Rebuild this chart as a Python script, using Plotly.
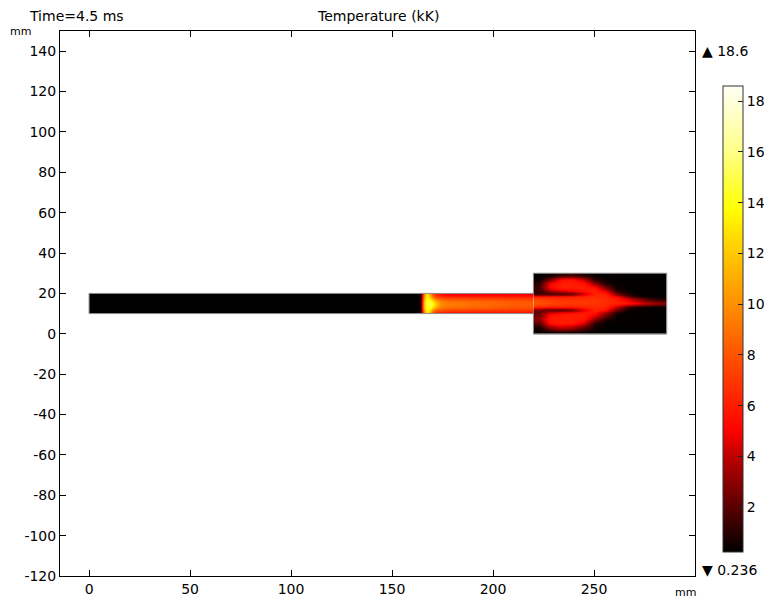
import plotly.graph_objects as go

# ---- data: temperature field (kK) ----
T_MIN = 0.236
T_MAX = 18.6

# Tube (x 0..220 mm, y 10..20 mm): cell edges
tube_x_edges = [0, 100, 160, 163, 165, 166.5, 168, 169.5, 171, 173, 176, 180, 190, 205, 220]
tube_y_edges = [10, 11.25, 12.75, 14.25, 15.75, 17.25, 18.75, 20]
# one list per column (bottom -> top rows)
tube_cols = [
    [0.24, 0.24, 0.24, 0.24, 0.24, 0.24, 0.24],
    [0.24, 0.24, 0.24, 0.24, 0.24, 0.24, 0.24],
    [0.25, 0.25, 0.25, 0.25, 0.25, 0.25, 0.25],
    [0.5, 0.6, 0.6, 0.6, 0.6, 0.6, 0.5],
    [9.0, 10.0, 11.0, 11.0, 11.0, 10.0, 9.0],
    [13.5, 14.0, 14.5, 14.5, 14.5, 14.0, 13.5],
    [11.0, 13.0, 14.5, 15.0, 14.5, 13.0, 11.0],
    [8.0, 10.0, 13.0, 14.0, 13.0, 10.0, 8.0],
    [6.5, 8.5, 11.0, 12.0, 11.0, 8.5, 6.5],
    [6.0, 8.0, 9.5, 10.0, 9.5, 8.0, 5.5],
    [5.5, 7.5, 9.0, 9.5, 9.0, 7.5, 5.0],
    [5.5, 7.5, 8.8, 9.2, 8.8, 7.5, 5.0],
    [5.5, 7.2, 8.5, 8.8, 8.5, 7.2, 5.0],
    [5.5, 7.0, 8.0, 8.3, 8.0, 7.0, 5.0],
]

# Chamber (x 220..286 mm, y 0..30 mm): cell edges
cham_x_edges = [220, 225.5, 231, 236.5, 242, 247.5, 253, 258.5, 264, 269.5, 275, 280.5, 286]
cham_y_edges = [0, 2, 4, 6, 8, 10, 11.25, 12.5, 14, 16, 18, 19.25, 20.5, 22, 24, 26, 28, 30]
# one list per row, listed top (y=29) -> bottom (y=1)
cham_rows_top_down = [
    [0.3, 0.5, 1.2, 1.5, 0.8, 0.3, 0.3, 0.3, 0.3, 0.3, 0.3, 0.3],   # y 29
    [0.4, 2.5, 5.2, 5.6, 4.0, 1.0, 0.4, 0.3, 0.3, 0.3, 0.3, 0.3],   # y 27
    [1.0, 5.0, 6.0, 6.0, 5.8, 3.0, 0.7, 0.3, 0.3, 0.3, 0.3, 0.3],   # y 25
    [1.5, 5.2, 6.0, 6.0, 6.0, 5.5, 2.5, 0.5, 0.3, 0.3, 0.3, 0.3],   # y 23
    [1.0, 3.5, 4.5, 5.0, 5.8, 6.2, 4.5, 1.0, 0.4, 0.3, 0.3, 0.3],   # y 21.25
    [1.5, 1.3, 1.5, 2.0, 4.0, 6.3, 6.0, 2.5, 0.8, 0.3, 0.3, 0.3],   # y 19.9
    [5.5, 5.5, 5.5, 5.8, 6.2, 6.5, 6.3, 5.0, 2.0, 0.6, 0.3, 0.3],   # y 18.6
    [7.5, 7.0, 6.8, 6.8, 6.8, 6.8, 6.5, 6.0, 4.5, 3.0, 1.5, 1.0],   # y 17
    [8.0, 7.5, 7.2, 7.0, 7.0, 6.8, 6.5, 6.2, 5.8, 4.8, 3.8, 3.2],   # y 15
    [6.5, 6.0, 6.0, 6.0, 6.3, 6.5, 6.3, 4.0, 1.5, 0.6, 0.4, 0.3],   # y 13.25
    [2.5, 2.0, 2.0, 2.5, 4.5, 6.3, 5.5, 2.5, 0.6, 0.3, 0.3, 0.3],   # y 11.9
    [2.0, 4.0, 4.5, 5.0, 5.8, 5.8, 3.5, 1.0, 0.3, 0.3, 0.3, 0.3],   # y 10.6
    [2.5, 5.5, 6.0, 6.0, 6.0, 4.8, 2.5, 0.4, 0.3, 0.3, 0.3, 0.3],   # y 9
    [3.0, 6.0, 6.0, 6.0, 5.8, 3.0, 0.8, 0.3, 0.3, 0.3, 0.3, 0.3],   # y 7
    [2.0, 5.5, 6.0, 5.8, 4.5, 1.0, 0.3, 0.3, 0.3, 0.3, 0.3, 0.3],   # y 5
    [0.5, 3.0, 4.0, 3.5, 2.0, 0.5, 0.3, 0.3, 0.3, 0.3, 0.3, 0.3],   # y 3
    [0.3, 0.4, 0.6, 0.6, 0.4, 0.3, 0.3, 0.3, 0.3, 0.3, 0.3, 0.3],   # y 1
]

# Geometry outline (mm)
outline_x = [0, 220, 220, 286, 286, 220, 220, 0, 0]
outline_y = [10, 10, 0, 0, 30, 30, 20, 20, 10]

x_ticks = [0, 50, 100, 150, 200, 250]
x_tick_labels = ["0", "50", "100", "150", "200", "250"]
y_ticks = [-120, -100, -80, -60, -40, -20, 0, 20, 40, 60, 80, 100, 120, 140]
y_tick_labels = ["-120", "-100", "-80", "-60", "-40", "-20", "0", "20", "40", "60", "80", "100", "120", "140"]
cb_ticks = [2, 4, 6, 8, 10, 12, 14, 16, 18]
cb_tick_labels = ["2", "4", "6", "8", "10", "12", "14", "16", "18"]

# ---- build ----
tube_z = [[col[r] for col in tube_cols] for r in range(len(tube_y_edges) - 1)]
cham_z = list(reversed(cham_rows_top_down))

colorscale = [
    [0.0, "#000000"],
    [0.096, "#5a0000"],
    [0.205, "#bc0000"],
    [0.26, "#ff0000"],
    [0.42, "#ff5200"],
    [0.53, "#ff8e00"],
    [0.64, "#ffc800"],
    [0.735, "#ffff00"],
    [0.86, "#ffff88"],
    [1.0, "#fffff6"],
]

# page has an 8px body margin: figure is 8px smaller, plot area same size
FONT = "DejaVu Sans"
fig = go.Figure()
fig.add_trace(go.Heatmap(x=tube_x_edges, y=tube_y_edges, z=tube_z, coloraxis="coloraxis",
                         zsmooth="best", hoverinfo="skip"))
fig.add_trace(go.Heatmap(x=cham_x_edges, y=cham_y_edges, z=cham_z, coloraxis="coloraxis",
                         zsmooth="best", hoverinfo="skip"))
fig.add_trace(go.Scatter(x=outline_x, y=outline_y, mode="lines",
                         line=dict(color="#8c8c8c", width=1), hoverinfo="skip", showlegend=False))

fig.update_layout(
    width=764, height=592,
    margin=dict(l=52, r=77, t=23, b=24, autoexpand=False),
    paper_bgcolor="white", plot_bgcolor="white",
    font=dict(family=FONT, size=14, color="black"),
    showlegend=False,
    coloraxis=dict(
        cmin=T_MIN, cmax=T_MAX, colorscale=colorscale,
        colorbar=dict(
            x=(723 - 60) / 635, xanchor="left", xpad=0,
            y=(576 - 319) / 545, yanchor="middle", ypad=0,
            len=466, lenmode="pixels", thickness=20, thicknessmode="pixels",
            outlinewidth=1, outlinecolor="#333333",
            tickvals=cb_ticks, ticktext=cb_tick_labels,
            ticks="inside", ticklen=5, tickcolor="#222222",
            tickfont=dict(family=FONT, size=14), ticklabelposition="outside",
        ),
    ),
    xaxis=dict(range=[-14.4, 300], tickvals=x_ticks, ticktext=x_tick_labels,
               ticks="inside", ticklen=6,
               tickcolor="black", showline=True, linecolor="black", linewidth=1,
               mirror="ticks", showgrid=False, zeroline=False,
               tickfont=dict(family=FONT, size=14)),
    yaxis=dict(range=[-120, 150], tickvals=y_ticks, ticktext=y_tick_labels,
               ticks="inside", ticklen=6,
               tickcolor="black", showline=True, linecolor="black", linewidth=1,
               mirror="ticks", showgrid=False, zeroline=False,
               tickfont=dict(family=FONT, size=14)),
    annotations=[
        dict(text="Time=4.5 ms", xref="paper", yref="paper", x=(27 - 60) / 635, y=(576 - 16) / 545,
             xanchor="left", yanchor="middle", showarrow=False, font=dict(size=14)),
        dict(text="Temperature (kK)", xref="paper", yref="paper", x=0.5, y=(576 - 16) / 545,
             xanchor="center", yanchor="middle", showarrow=False, font=dict(size=14)),
        dict(text="mm", xref="paper", yref="paper", x=(8 - 60) / 635, y=(576 - 31) / 545,
             xanchor="left", yanchor="middle", showarrow=False, font=dict(size=11)),
        dict(text="mm", xref="paper", yref="paper", x=(673 - 60) / 635, y=(576 - 592) / 545,
             xanchor="left", yanchor="middle", showarrow=False, font=dict(size=11)),
        dict(text="▲ %.1f" % T_MAX, xref="paper", yref="paper", x=(700 - 60) / 635, y=(576 - 51) / 545,
             xanchor="left", yanchor="middle", showarrow=False, font=dict(size=14)),
        dict(text="▼ %.3f" % T_MIN, xref="paper", yref="paper", x=(700 - 60) / 635, y=(576 - 570) / 545,
             xanchor="left", yanchor="middle", showarrow=False, font=dict(size=14)),
    ],
)

fig.write_html("out.html")
